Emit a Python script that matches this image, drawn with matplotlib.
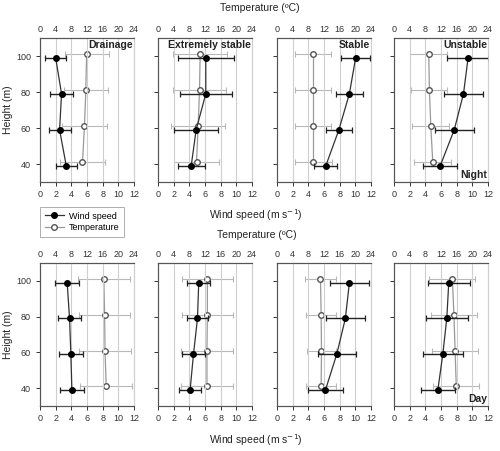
import matplotlib
matplotlib.use('Agg')
import matplotlib.pyplot as plt
from matplotlib.lines import Line2D
import numpy as np

plt.rcParams['font.family'] = ['Liberation Sans', 'DejaVu Sans']

HEIGHTS = [100, 80, 60, 40]

TITLES_NIGHT = ['Drainage', 'Extremely stable', 'Stable', 'Unstable']

# night: wind speed (m/s) and its sd
WIND_NIGHT = [
    [2.0, 2.75, 2.5, 3.35],
    [6.1, 6.1, 4.87, 4.24],
    [10.04, 9.24, 7.9, 6.23],
    [9.46, 8.87, 7.69, 5.9],
]
WIND_NIGHT_SD = [
    [1.3, 1.45, 1.4, 1.37],
    [3.6, 3.35, 2.78, 1.75],
    [1.85, 1.7, 1.65, 1.48],
    [2.7, 2.45, 2.5, 2.2],
]
# night: temperature (ºC) and its sd
TEMP_NIGHT = [
    [11.9, 11.7, 11.35, 10.85],
    [10.76, 10.6, 10.25, 9.83],
    [9.24, 9.24, 9.24, 9.24],
    [8.87, 9.04, 9.4, 9.9],
]
TEMP_NIGHT_SD = [
    [5.6, 5.7, 5.75, 5.85],
    [6.9, 6.85, 6.95, 5.7],
    [4.6, 4.6, 4.6, 4.7],
    [4.7, 4.6, 4.7, 4.7],
]

# day
WIND_DAY = [
    [3.47, 3.77, 3.94, 4.07],
    [5.2, 5.04, 4.53, 4.1],
    [9.24, 8.73, 7.63, 6.19],
    [6.99, 6.74, 6.23, 5.6],
]
WIND_DAY_SD = [
    [1.55, 1.5, 1.5, 1.5],
    [1.44, 1.4, 1.45, 1.4],
    [2.46, 2.45, 2.45, 2.27],
    [2.67, 2.65, 2.56, 2.2],
]
TEMP_DAY = [
    [16.3, 16.5, 16.6, 16.9],
    [12.6, 12.6, 12.5, 12.5],
    [11.1, 11.27, 11.36, 11.27],
    [14.9, 15.3, 15.6, 15.9],
]
TEMP_DAY_SD = [
    [6.6, 6.5, 6.6, 6.7],
    [6.6, 6.6, 6.6, 6.6],
    [3.9, 3.9, 3.8, 3.9],
    [5.9, 5.9, 5.9, 5.9],
]

W, H = 500, 451
LEFTS = [40, 158, 277, 394]
PW = 94
ROWS = [(38, 182), (263, 406)]
MS = 4

fig = plt.figure(figsize=(W / 100, H / 100), dpi=100)

def panel(left, top, bottom, wind, wsd, temp, tsd, title, ylabels, corner):
    ax = fig.add_axes([left / W, 1 - bottom / H, PW / W, (bottom - top) / H])
    ax2 = ax.twiny()
    h = np.array(HEIGHTS)

    for x in range(2, 12, 2):
        ax.axvline(x, color='#cfcfcf', lw=0.8, zorder=0)

    ax2.errorbar(temp, h + 1, xerr=tsd, fmt='-o', color='#999999', ecolor='#b8b8b8',
                 mfc='white', mec='#555555', ms=MS, lw=0.9, elinewidth=0.8,
                 capsize=2, capthick=0.8, zorder=3)
    ax.errorbar(wind, h - 1, xerr=wsd, fmt='-o', color='#333333', ecolor='#222222',
                mfc='black', mec='black', ms=MS, lw=0.9, elinewidth=1.0,
                capsize=2, capthick=0.9, zorder=4)
    ax.set_zorder(ax2.get_zorder() + 1)
    ax.patch.set_visible(False)

    ax.set_xlim(0, 12)
    ax2.set_xlim(0, 24)
    ax.set_ylim(30, 110)
    ax.set_xticks(range(0, 13, 2))
    ax2.set_xticks(range(0, 25, 4))
    ax.set_yticks([40, 60, 80, 100])
    ax.tick_params(axis='x', direction='out', length=3, labelsize=6.5, width=0.7,
                   colors='#333333', pad=3)
    ax.tick_params(axis='y', direction='out', length=3, labelsize=6.5, width=0.7,
                   colors='#333333', labelleft=ylabels)
    ax2.tick_params(axis='x', direction='in', length=3, labelsize=6.5, width=0.7,
                    colors='#333333', pad=3)
    for a in (ax, ax2):
        for s in ('left', 'bottom', 'top'):
            a.spines[s].set_color('#555555')
            a.spines[s].set_linewidth(0.8)
        a.spines['right'].set_color('#cfcfcf')
    if title:
        ax.text(0.99, 0.985, title, transform=ax.transAxes, ha='right', va='top',
                fontsize=7.5, fontweight='bold', color='#222222', zorder=6)
    if corner:
        ax.text(0.99, 0.015, corner, transform=ax.transAxes, ha='right', va='bottom',
                fontsize=7.5, fontweight='bold', color='#222222', zorder=6)
    if ylabels:
        ax.set_ylabel('Height (m)', fontsize=7.5, color='#222222', labelpad=2)
    return ax

for i in range(4):
    top, bottom = ROWS[0]
    panel(LEFTS[i], top, bottom, WIND_NIGHT[i], WIND_NIGHT_SD[i], TEMP_NIGHT[i],
          TEMP_NIGHT_SD[i], TITLES_NIGHT[i], i == 0, 'Night' if i == 3 else None)
    top, bottom = ROWS[1]
    panel(LEFTS[i], top, bottom, WIND_DAY[i], WIND_DAY_SD[i], TEMP_DAY[i],
          TEMP_DAY_SD[i], None, i == 0, 'Day' if i == 3 else None)

lab = dict(fontsize=7.5, color='#222222', ha='center', va='center')
fig.text(260 / W, 1 - 8 / H, 'Temperature (ºC)', **lab)
fig.text(256 / W, 1 - 215 / H, 'Wind speed (m s$^{-1}$)', **lab)
fig.text(257 / W, 1 - 235 / H, 'Temperature (ºC)', **lab)
fig.text(256 / W, 1 - 440 / H, 'Wind speed (m s$^{-1}$)', **lab)

handles = [
    Line2D([], [], color='#333333', marker='o', mfc='black', mec='black', ms=MS, lw=0.9),
    Line2D([], [], color='#999999', marker='o', mfc='white', mec='#555555', ms=MS, lw=0.9),
]
leg = fig.legend(handles, ['Wind speed', 'Temperature'], loc='upper left',
                 bbox_to_anchor=(40 / W, 1 - 207 / H), fontsize=6.5, frameon=True,
                 fancybox=False, edgecolor='#999999', handlelength=2.2,
                 borderpad=0.5, labelspacing=0.3, handletextpad=0.5, borderaxespad=0)
leg.get_frame().set_linewidth(0.7)

fig.savefig('out.png', dpi=100)
